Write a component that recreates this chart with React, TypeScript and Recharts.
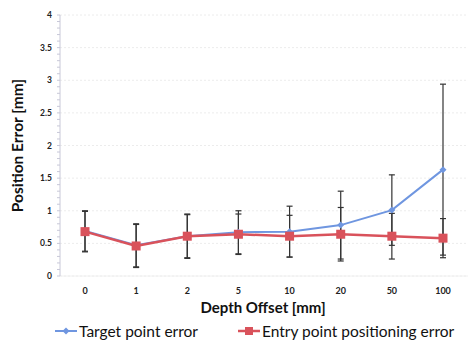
import { LineChart, Line, XAxis, YAxis, CartesianGrid, ErrorBar, Legend } from "recharts";

const depths = ["0", "1", "2", "5", "10", "20", "50", "100"];
const targetError = [0.69, 0.47, 0.61, 0.67, 0.68, 0.78, 1.01, 1.63];
const targetSpread = [0.31, 0.33, 0.33, 0.33, 0.39, 0.52, 0.54, 1.31];
const entryError = [0.68, 0.46, 0.61, 0.64, 0.61, 0.64, 0.61, 0.58];
const entrySpread = [0.31, 0.33, 0.34, 0.31, 0.32, 0.41, 0.35, 0.3];
const majorTicks = [0, 0.5, 1, 1.5, 2, 2.5, 3, 3.5, 4];
const minorTicks = Array.from({ length: 41 }, (_, i) => i / 10);

const BLUE = "#6f96e0";
const RED = "#d9525b";
const FONT = "Lato, 'Open Sans', sans-serif";

const data = depths.map((depth, i) => ({
  depth,
  target: targetError[i],
  targetErr: targetSpread[i],
  entry: entryError[i],
  entryErr: entrySpread[i],
}));

const YTick = (props: any) => {
  const { x, y, payload } = props;
  const v = payload.value;
  if (Math.abs(v * 2 - Math.round(v * 2)) > 0.001) return null;
  return (
    <text x={x} y={y} dy={3} textAnchor="end" fontSize={8.5} fontWeight={700} fill="#222" fontFamily={FONT}>
      {String(Math.round(v * 10) / 10)}
    </text>
  );
};

const Diamond = (props: any) => {
  const { cx, cy } = props;
  if (cx == null || cy == null) return null;
  return <path d={`M${cx},${cy - 3.5}L${cx + 3.5},${cy}L${cx},${cy + 3.5}L${cx - 3.5},${cy}Z`} fill={BLUE} />;
};

const Square = (props: any) => {
  const { cx, cy } = props;
  if (cx == null || cy == null) return null;
  return <rect x={cx - 4.5} y={cy - 4.5} width={9} height={9} fill={RED} />;
};

const LegendContent = () => (
  <div style={{ display: "flex", alignItems: "center", fontFamily: FONT, fontSize: 15.5, color: "#111", height: 26 }}>
    <svg width={22} height={10} style={{ marginRight: 2 }}>
      <line x1={0} y1={5} x2={22} y2={5} stroke={BLUE} strokeWidth={2} />
      <path d="M11,1.5L14.5,5L11,8.5L7.5,5Z" fill={BLUE} />
    </svg>
    <span>Target point error</span>
    <svg width={22} height={10} style={{ marginLeft: 40, marginRight: 2 }}>
      <line x1={0} y1={5} x2={22} y2={5} stroke={RED} strokeWidth={2.5} />
      <rect x={7} y={1} width={8} height={8} fill={RED} />
    </svg>
    <span>Entry point positioning error</span>
  </div>
);

export default function App() {
  return (
    <div style={{ position: "absolute", left: 0, top: 0, width: 468, height: 348, background: "#fff" }}>
      <LineChart width={468} height={348} data={data} margin={{ top: 15, right: 0, left: 0, bottom: 4 }}>
        <CartesianGrid vertical={false} horizontalValues={majorTicks} stroke="#ececec" strokeDasharray="2 2" />
        <XAxis
          dataKey="depth"
          height={42}
          padding={{ left: 25, right: 25 }}
          tickLine={false}
          tickSize={0}
          tickMargin={12}
          axisLine={{ stroke: "#f0f0f0" }}
          tick={{ fontSize: 9, fontWeight: 700, fill: "#222", fontFamily: FONT }}
          label={(p: any) => {
            const vb = p.viewBox;
            return (
              <text x={263} y={vb.y + 31} textAnchor="middle" dominantBaseline="central" fontSize={15} fontWeight={700} fill="#111" fontFamily={FONT}>
                Depth Offset [mm]
              </text>
            );
          }}
        />
        <YAxis
          width={60}
          domain={[0, 4]}
          ticks={minorTicks}
          interval={0}
          tickSize={3}
          tickMargin={5}
          tickLine={{ stroke: "#c8c8d8" }}
          axisLine={{ stroke: "#c8c8d8" }}
          tick={<YTick />}
          label={(p: any) => {
            const vb = p.viewBox;
            return (
              <text
                x={17}
                y={vb.y + vb.height / 2}
                transform={`rotate(-90, 17, ${vb.y + vb.height / 2})`}
                textAnchor="middle"
                dominantBaseline="central"
                fontSize={15.5}
                fontWeight={700}
                fill="#111"
                fontFamily={FONT}
              >
                Position Error [mm]
              </text>
            );
          }}
        />
        <Legend verticalAlign="bottom" align="left" wrapperStyle={{ left: 55, height: 26 }} content={<LegendContent />} />
        <Line dataKey="target" stroke={BLUE} strokeWidth={2} dot={<Diamond />} activeDot={false} isAnimationActive={false}>
          <ErrorBar dataKey="targetErr" stroke="#333" strokeWidth={1.2} width={3} />
        </Line>
        <Line dataKey="entry" stroke={RED} strokeWidth={2.5} dot={<Square />} activeDot={false} isAnimationActive={false}>
          <ErrorBar dataKey="entryErr" stroke="#333" strokeWidth={1.2} width={3} />
        </Line>
      </LineChart>
    </div>
  );
}
